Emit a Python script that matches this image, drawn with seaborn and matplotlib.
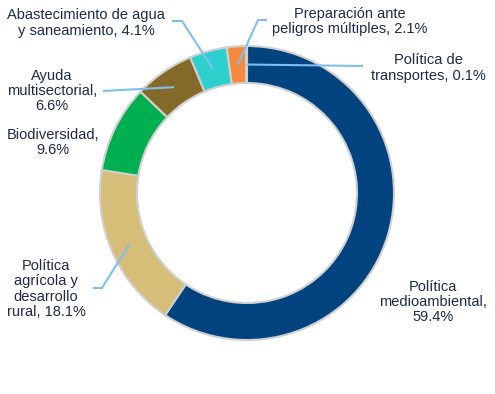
import numpy as np
import matplotlib
matplotlib.use('Agg')
from matplotlib import pyplot as plt
import seaborn as sns

# Datos (porcentajes, orden horario desde las 12)
categorias = ["Política medioambiental", "Política agrícola y desarrollo rural",
              "Biodiversidad", "Ayuda multisectorial",
              "Abastecimiento de agua y saneamiento",
              "Preparación ante peligros múltiples", "Política de transportes"]
valores = [59.4, 18.1, 9.6, 6.6, 4.1, 2.1, 0.1]
etiquetas = ["Política\nmedioambiental,\n59.4%",
             "Política\nagrícola y\ndesarrollo\nrural, 18.1%",
             "Biodiversidad,\n9.6%",
             "Ayuda\nmultisectorial,\n6.6%",
             "Abastecimiento de agua\ny saneamiento, 4.1%",
             "Preparación ante\npeligros múltiples, 2.1%",
             "Política de\ntransportes, 0.1%"]
colores = ["#00437F", "#D7BE78", "#00B050", "#836A28", "#2ECFCF", "#F58A3C", "#7F7F7F"]

W, H = 495, 394
CX, CY = 247, H - 193
R, ANCHO = 147, 37

# posiciones de las etiquetas (x, y desde arriba) y codos de las guías
pos_texto = [(433, 302), (46, 289), (53, 142.5), (52, 91), (86, 23), (350, 21.5), (428, 68)]
guias = [None,
         [(102, 288), (93, 288)],
         None,
         [(103, 91)],
         [(182, 21), (172, 21)],
         [(258, 20), (267, 20)],
         [(363, 66)]]

sns.set_theme(style='white')
plt.rcParams['font.family'] = ['Liberation Sans', 'DejaVu Sans']

fig = plt.figure(figsize=(W / 100, H / 100), dpi=100)
ax = fig.add_axes([0, 0, 1, 1])
ax.pie(valores, colors=sns.color_palette(colores), startangle=90, counterclock=False,
       center=(CX, CY), radius=R,
       wedgeprops=dict(width=ANCHO, edgecolor='#D0D0D0', linewidth=1.5))
ax.set_xlim(0, W)
ax.set_ylim(0, H)
ax.set_aspect('equal')
ax.axis('off')

# ángulo medio de cada porción
fin = np.cumsum(valores) / np.sum(valores)
medio = fin - np.array(valores) / np.sum(valores) / 2
angulos = np.deg2rad(90 - 360 * medio)
r_medio = R - ANCHO / 2

for i, txt in enumerate(etiquetas):
    tx, ty = pos_texto[i]
    ax.text(tx, H - ty, txt, ha='center', va='center', multialignment='center',
            fontsize=10.5, color='#1C2B48', linespacing=1.12)
    if guias[i]:
        xs = [CX + r_medio * np.cos(angulos[i])] + [p[0] for p in guias[i]]
        ys = [CY + r_medio * np.sin(angulos[i])] + [H - p[1] for p in guias[i]]
        ax.plot(xs, ys, color='#7FBFEF', lw=1.5, solid_capstyle='butt')

fig.savefig('out.png', dpi=100)
plt.close()
